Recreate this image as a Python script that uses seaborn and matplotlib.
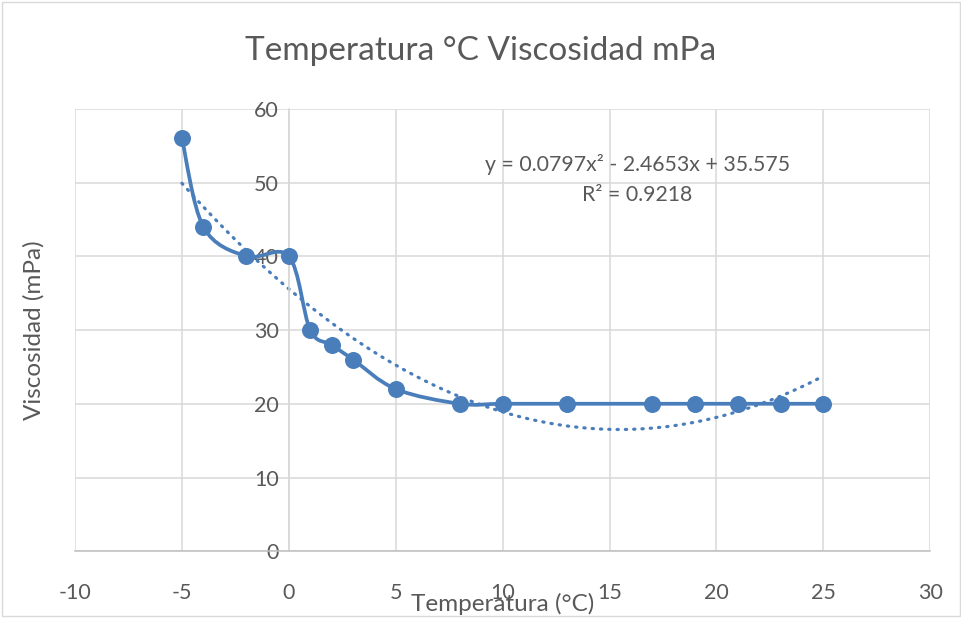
import numpy as np
import matplotlib
matplotlib.use("Agg")
import matplotlib.pyplot as plt
from matplotlib.path import Path
from matplotlib.patches import PathPatch
import pandas as pd
import seaborn as sns

# data
temperatura = [-5, -4, -2, 0, 1, 2, 3, 5, 8, 10, 13, 17, 19, 21, 23, 25]
viscosidad = [56, 44, 40, 40, 30, 28, 26, 22, 20, 20, 20, 20, 20, 20, 20, 20]
coef = [0.0797, -2.4653, 35.575]  # trendline y = a x^2 + b x + c
r2 = 0.9218

sns.set_theme(style="white")
plt.rcParams['font.family'] = ['Lato', 'DejaVu Sans']
plt.rcParams['axes.unicode_minus'] = False

azul = "#4a7ebb"
gris = "#595959"

df = pd.DataFrame({"Temperatura": temperatura, "Viscosidad": viscosidad})

fig = plt.figure(figsize=(9.62, 6.18), dpi=100)
ax = fig.add_axes([0.078, 0.108, 0.889, 0.716])

# smoothed line (Catmull-Rom style bezier through the points, like Excel)
x = np.array(temperatura, float)
y = np.array(viscosidad, float)
verts = [(x[0], y[0])]
codes = [Path.MOVETO]
n = len(x)
for i in range(n - 1):
    p0 = np.array([x[max(i - 1, 0)], y[max(i - 1, 0)]])
    p1 = np.array([x[i], y[i]])
    p2 = np.array([x[i + 1], y[i + 1]])
    p3 = np.array([x[min(i + 2, n - 1)], y[min(i + 2, n - 1)]])
    c1 = p1 + (p2 - p0) / 6
    c2 = p2 - (p3 - p1) / 6
    verts += [tuple(c1), tuple(c2), tuple(p2)]
    codes += [Path.CURVE4] * 3
ax.add_patch(PathPatch(Path(verts, codes), fill=False, edgecolor=azul,
                       lw=2.7, zorder=3, capstyle="round", joinstyle="round"))

# polynomial trendline
xt = np.linspace(min(temperatura), max(temperatura), 200)
yt = np.polyval(coef, xt)
ax.plot(xt, yt, color=azul, lw=2.3, linestyle=(0, (0.4, 2.2)),
        dash_capstyle="round", zorder=2)

sns.scatterplot(data=df, x="Temperatura", y="Viscosidad", color=azul, s=150,
                edgecolor=azul, linewidth=0, zorder=4, ax=ax)

ax.set_xlim(-10, 30)
ax.set_ylim(0, 60)
ax.set_xticks(range(-10, 31, 5))
ax.set_yticks(range(0, 61, 10))
ax.grid(True, color="#d9d9d9", lw=1.1)
ax.set_axisbelow(True)

for s in ["top", "right"]:
    ax.spines[s].set_visible(False)
ax.spines["left"].set_position(("data", 0))
ax.spines["left"].set_color("#d9d9d9")
ax.spines["left"].set_linewidth(1.1)
ax.spines["bottom"].set_color("#bfbfbf")
ax.spines["bottom"].set_linewidth(1.1)
ax.tick_params(axis="both", length=0, labelsize=15.5, labelcolor=gris)
ax.tick_params(axis="x", pad=23)
ax.tick_params(axis="y", pad=7)

ax.set_xlabel("Temperatura (°C)", fontsize=17.5, color=gris)
ax.set_ylabel("Viscosidad (mPa)", fontsize=17.5, color=gris)
ax.xaxis.set_label_coords(0.5, -0.094)
ax.yaxis.set_label_coords(-0.036, 0.5)

ax.text(16.3, 52.4, "y = 0.0797x² - 2.4653x + 35.575", ha="center", va="center",
        fontsize=15.3, color=gris)
ax.text(16.3, 48.3, f"R² = {r2}", ha="center", va="center", fontsize=15.3, color=gris)

fig.text(0.5, 0.918, "Temperatura °C Viscosidad mPa", ha="center", va="center",
         fontsize=24, color=gris)

fig.patches.append(plt.Rectangle((0.002, 0.003), 0.996, 0.994, transform=fig.transFigure,
                                 fill=False, edgecolor="#d9d9d9", lw=1))

fig.savefig("out.png", dpi=100)
